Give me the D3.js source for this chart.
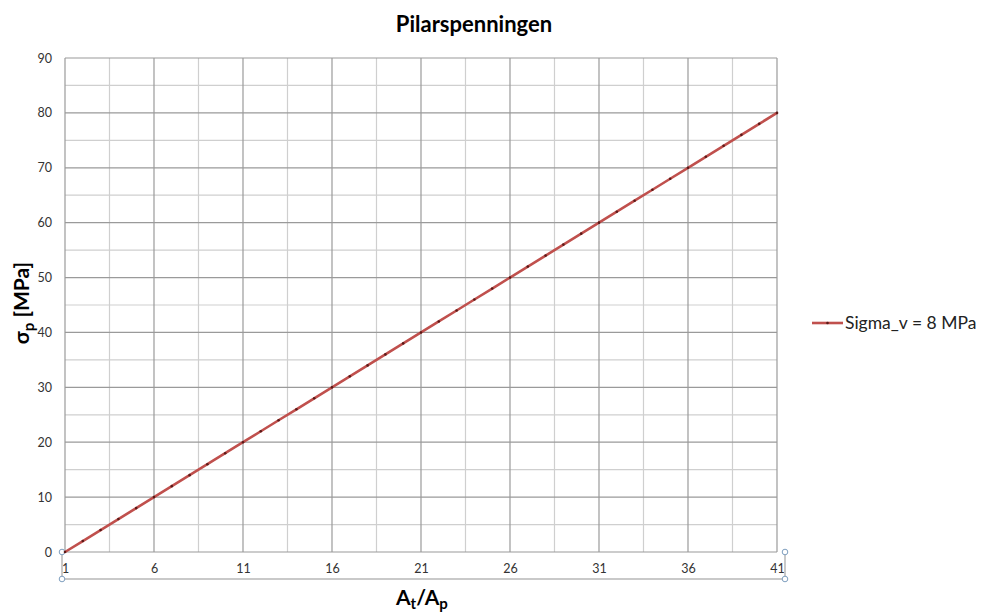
<!DOCTYPE html>
<html><head><meta charset="utf-8">
<script src="https://cdn.jsdelivr.net/npm/d3@7"></script>
<style>body{margin:0;background:#fff}svg{display:block}text{font-family:Lato,"Open Sans",sans-serif}</style>
</head><body><svg id="c" width="984" height="614"></svg>
<script>
const categories = [1,2,3,4,5,6,7,8,9,10,11,12,13,14,15,16,17,18,19,20,21,22,23,24,25,26,27,28,29,30,31,32,33,34,35,36,37,38,39,40,41];
const sigmaP = [0,2,4,6,8,10,12,14,16,18,20,22,24,26,28,30,32,34,36,38,40,42,44,46,48,50,52,54,56,58,60,62,64,66,68,70,72,74,76,78,80];
const xTickLabels = [1,6,11,16,21,26,31,36,41];
const yTicks = [0,10,20,30,40,50,60,70,80,90];
const seriesName = "Sigma_v = 8 MPa";

const svg = d3.select("#c");
const L=65,R=777,T=58,B=552;
const x = d3.scaleLinear().domain([1,41]).range([L,R]);
const y = d3.scaleLinear().domain([0,90]).range([B,T]);

// minor gridlines
const g = svg.append("g");
for(let v=3.5; v<41; v+=5) g.append("line").attr("x1",x(v)).attr("x2",x(v)).attr("y1",T).attr("y2",B).attr("stroke","#cfcfcf").attr("stroke-width",1.2);
for(let v=5; v<90; v+=10) g.append("line").attr("x1",L).attr("x2",R).attr("y1",y(v)).attr("y2",y(v)).attr("stroke","#cfcfcf").attr("stroke-width",1.2);
// major gridlines
xTickLabels.forEach(v=>g.append("line").attr("x1",x(v)).attr("x2",x(v)).attr("y1",T).attr("y2",B).attr("stroke","#9a9a9a").attr("stroke-width",1.2));
yTicks.forEach(v=>g.append("line").attr("x1",L).attr("x2",R).attr("y1",y(v)).attr("y2",y(v)).attr("stroke","#9a9a9a").attr("stroke-width",1.2));

// y axis labels
const yAxis = d3.axisLeft(y).tickValues(yTicks).tickSize(0).tickPadding(13);
const ya = svg.append("g").attr("transform",`translate(${L},0)`).call(yAxis);
ya.select(".domain").remove();
ya.selectAll("text").attr("font-size",12.5).attr("fill","#333").style("font-family","Lato,'Open Sans',sans-serif");

// x axis labels
const xAxis = d3.axisBottom(x).tickValues(xTickLabels).tickSize(0).tickPadding(12);
const xa = svg.append("g").attr("transform",`translate(0,${B})`).call(xAxis);
xa.select(".domain").remove();
xa.selectAll("text").attr("font-size",12.5).attr("fill","#333").style("font-family","Lato,'Open Sans',sans-serif");

// selection bracket around x axis
const sel = svg.append("g");
sel.append("path").attr("d",`M${L-3},${B}V${B+27}H${R+8}V${B}`).attr("fill","none").attr("stroke","#b8b8b8").attr("stroke-width",1.5);
[[L-3,B],[L-3,B+27],[R+8,B],[R+8,B+27]].forEach(p=>sel.append("circle").attr("cx",p[0]).attr("cy",p[1]).attr("r",2.8).attr("fill","#fff").attr("stroke","#7f9fbf").attr("stroke-width",1));

// line
const line = d3.line().x((d,i)=>x(categories[i])).y(d=>y(d));
svg.append("path").datum(sigmaP).attr("d",line).attr("fill","none").attr("stroke","#c0504d").attr("stroke-width",2.6).attr("stroke-linejoin","round");
svg.append("g").selectAll("circle").data(sigmaP).join("circle")
  .attr("cx",(d,i)=>x(categories[i])).attr("cy",d=>y(d)).attr("r",1.3).attr("fill","#5a1a18");

// title
svg.append("text").attr("x",474).attr("y",32).attr("text-anchor","middle").attr("font-size",22).attr("font-weight","bold").attr("fill","#000").text("Pilarspenningen");

// y title
const yt = svg.append("text").attr("transform","translate(29,303) rotate(-90)").attr("text-anchor","middle").attr("font-size",21).attr("font-weight","bold").attr("fill","#000");
yt.append("tspan").text("σ");
yt.append("tspan").attr("font-size",15).attr("dy",5).text("p");
yt.append("tspan").attr("dy",-5).text(" [MPa]");

// x title
const xt = svg.append("text").attr("x",396).attr("y",605).attr("font-size",21).attr("font-weight","bold").attr("fill","#000");
xt.append("tspan").text("A");
xt.append("tspan").attr("font-size",15).attr("dy",4).text("t");
xt.append("tspan").attr("dy",-4).text("/A");
xt.append("tspan").attr("font-size",15).attr("dy",4).text("p");

// legend
svg.append("line").attr("x1",812).attr("x2",843).attr("y1",323).attr("y2",323).attr("stroke","#c0504d").attr("stroke-width",2.6);
svg.append("circle").attr("cx",827.5).attr("cy",323).attr("r",1.3).attr("fill","#5a1a18");
svg.append("text").attr("x",845).attr("y",329).attr("font-size",17.5).attr("fill","#222").text(seriesName);
</script></body></html>
